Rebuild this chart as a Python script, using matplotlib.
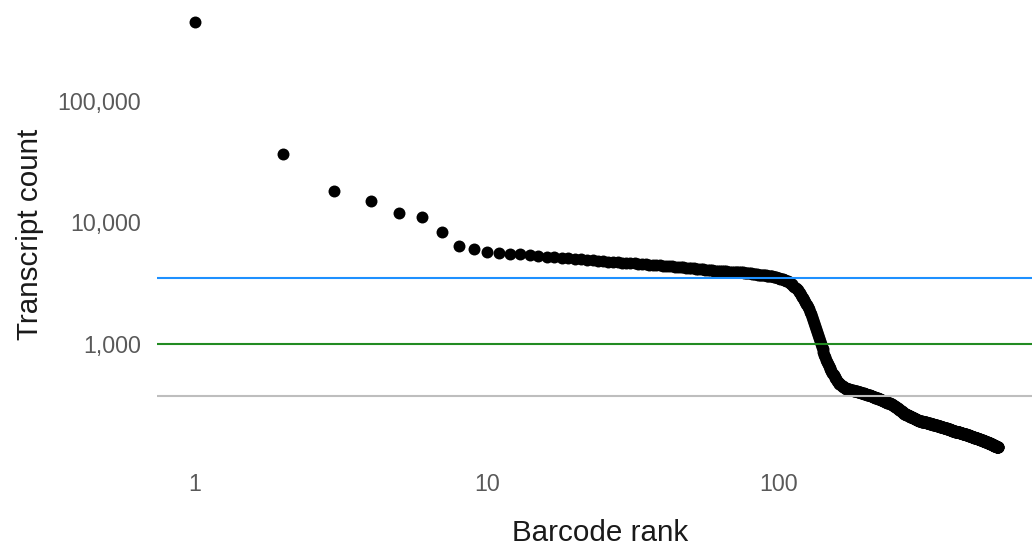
import numpy as np
import matplotlib
matplotlib.use("Agg")
import matplotlib.pyplot as plt
from matplotlib.ticker import FixedLocator, FixedFormatter, NullLocator

plt.rcParams["font.family"] = ["Liberation Sans", "DejaVu Sans"]

# Transcript counts per barcode, sorted descending (ranks 1-312)
counts_top = [
    447000, 36600, 18150, 14930, 12060, 11090, 8300, 6370, 6090, 5750,
    5620, 5540, 5460, 5390, 5320, 5250, 5190, 5120, 5060, 5000,
    4960, 4920, 4880, 4840, 4800, 4770, 4740, 4710, 4680, 4650,
    4620, 4600, 4580, 4550, 4520,
    4500, 4480, 4460, 4440, 4420, 4400, 4380, 4360, 4340, 4320,
    4300, 4280, 4260, 4240, 4220, 4200, 4180, 4160, 4140, 4110, 4090, 4060,
    4040, 4030, 4020, 4010, 4000, 3990, 3980, 3970, 3960, 3950,
    3940, 3930, 3920, 3910, 3900, 3895, 3890,
    3880, 3865, 3850, 3835, 3820, 3805, 3790, 3775, 3760, 3745,
    3730, 3715, 3700, 3690, 3680, 3670, 3660, 3655, 3650,
    3630, 3610, 3590, 3570, 3550, 3520, 3490, 3460, 3430, 3400,
    3370, 3340, 3310,
    3270, 3230, 3190, 3140, 3090, 3030, 2970, 2900, 2830, 2760, 2690, 2610,
    2530, 2450, 2370, 2290, 2210, 2140, 2080, 2020,
    1930, 1840, 1750, 1660, 1580, 1480, 1400,
    1330, 1260, 1190, 1120, 1060, 1000,
    950, 905, 860, 815, 775, 738,
    715, 690, 665, 640, 620, 600, 582, 566, 552, 538,
    525, 512, 500, 490, 480, 472, 465, 458, 452, 447, 443, 439, 435, 431,
    429, 428, 426, 425, 423, 422, 420, 419, 417, 416,
    414, 413, 411, 410, 408, 407, 405, 404, 402, 401,
    399, 398, 396, 395, 393, 392, 390, 389, 387, 386,
    384, 383, 381, 380, 378, 377, 375, 374, 372, 370, 368,
    366, 365, 363, 362, 360, 359, 357, 356, 354, 353,
    351, 350, 348, 347, 345, 344, 342, 341, 339, 338,
    336, 335, 333, 332, 330, 329, 328, 327, 326, 325,
    323, 321, 319, 317, 315, 313, 311, 309, 307, 305,
    303, 301, 299, 297, 295, 293, 291, 289, 287, 285,
    283, 281, 279, 277, 275, 273, 271, 269, 267, 266, 265, 264, 262, 261,
    260, 259, 258, 257, 256, 255, 254, 253, 252, 251,
    250, 249, 248, 247, 246, 245, 244, 243, 242, 241,
    240, 239, 238, 237, 236, 235, 234, 234, 233, 233,
    232, 232, 231, 231, 230, 230, 229, 229,
]

# Low-count tail: transcript count and number of barcodes sharing it
tail_counts = [
    228, 227, 226, 225, 224, 223, 222, 221, 220, 219, 218, 217, 216, 215,
    214, 213, 212, 211, 210, 209, 208, 207, 206, 205, 204, 203, 202, 201,
    200, 199, 198, 197, 196, 195, 194, 193, 192, 191, 190,
    189, 188, 187, 186, 185, 184, 183, 182, 181, 180, 179, 178, 177, 176,
    175, 174, 173, 172, 171, 170, 169, 168, 167, 166, 165, 164,
    163, 162, 161, 160, 159, 158, 157, 156, 155, 154, 153, 152, 151, 150,
    149, 148, 147, 146, 145, 144, 143, 142, 141,
]
tail_barcodes = [
    2, 2, 3, 2, 2, 3, 2, 2, 3, 2, 2, 3, 2, 2,
    3, 2, 2, 3, 2, 2, 3, 2, 2, 3, 2, 2, 3, 2,
    2, 3, 2, 2, 3, 2, 2, 3, 2, 3, 5,
    3, 3, 3, 3, 4, 3, 3, 3, 3, 3, 3, 4, 3, 3,
    3, 3, 3, 3, 4, 3, 3, 3, 3, 4, 3, 3,
    3, 4, 3, 3, 4, 3, 3, 4, 3, 3, 4, 3, 3, 4,
    3, 3, 4, 3, 3, 4, 3, 3, 3,
]

# Threshold levels
threshold_values = [3467, 1000, 375]
threshold_colors = ["#1E90FF", "#228B22", "#BEBEBE"]

x_breaks = [1, 10, 100]
x_labels = ["1", "10", "100"]
y_breaks = [1000, 10000, 100000]
y_labels = ["1,000", "10,000", "100,000"]

counts = np.concatenate([np.array(counts_top, dtype=float),
                         np.repeat(tail_counts, tail_barcodes).astype(float)])
ranks = np.arange(1, len(counts) + 1)

W, H = 1032, 546
PX = 72 / 100  # points per pixel at 100 dpi

fig = plt.figure(figsize=(W / 100, H / 100), dpi=100)
fig.patch.set_facecolor("white")
ax = fig.add_axes([157 / W, (H - 468) / H, (W - 157) / W, 468 / H])
ax.set_facecolor("white")

ax.scatter(ranks, counts, s=74, color="black", linewidths=0, zorder=2)
for val, col in zip(threshold_values, threshold_colors):
    ax.axhline(val, color=col, linewidth=1.5, zorder=3)

ax.set_xscale("log")
ax.set_yscale("log")
ax.set_xlim(10 ** ((157 - 195) / 292), 10 ** ((1032 - 195) / 292))
ax.set_ylim(10 ** (5 - 367 / 121.5), 10 ** (5 + 101 / 121.5))

ax.xaxis.set_major_locator(FixedLocator(x_breaks))
ax.xaxis.set_major_formatter(FixedFormatter(x_labels))
ax.yaxis.set_major_locator(FixedLocator(y_breaks))
ax.yaxis.set_major_formatter(FixedFormatter(y_labels))
ax.xaxis.set_minor_locator(NullLocator())
ax.yaxis.set_minor_locator(NullLocator())

for sp in ax.spines.values():
    sp.set_visible(False)
ax.tick_params(axis="both", length=0, labelsize=16.7, labelcolor="#595959")
ax.tick_params(axis="x", pad=5 * PX)
ax.tick_params(axis="y", pad=16 * PX)

fig.text(600 / W, 5 / H, "Barcode rank", ha="center", va="baseline",
         fontsize=21.3, color="#1a1a1a")
fig.text(30 / W, 1 - 234 / H, "Transcript count", ha="center", va="center",
         rotation=90, fontsize=21.3, color="#1a1a1a")

fig.savefig("out.png", dpi=100, facecolor="white")
